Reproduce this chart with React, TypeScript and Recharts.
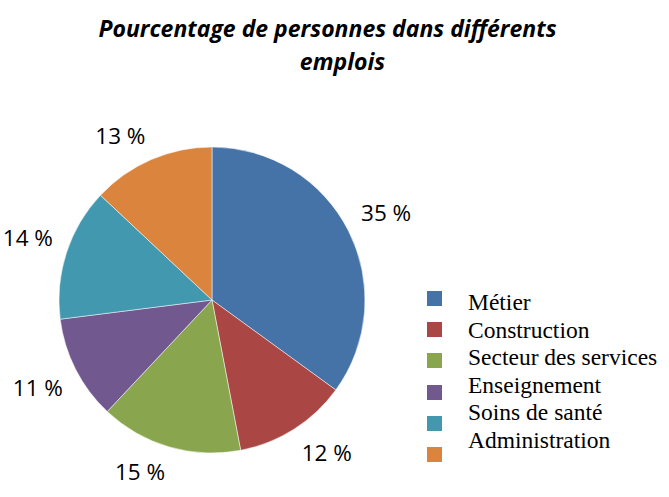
import { PieChart, Pie, Cell, Legend } from 'recharts';

const categories = ['Métier', 'Construction', 'Secteur des services', 'Enseignement', 'Soins de santé', 'Administration'];
const percentages = [35, 12, 15, 11, 14, 13];
const colors = ['#4572A7', '#AA4643', '#89A54E', '#71588F', '#4198AF', '#DB843D'];

const data = categories.map((name, i) => ({ name, value: percentages[i] }));

const RADIAN = Math.PI / 180;
const LABEL_SIZE = 22.5;

// outside-end labels: nearest corner of the text box sits just outside the slice
const renderLabel = (props: any) => {
  const { cx, cy, midAngle, outerRadius, value } = props;
  const dx = Math.cos(-midAngle * RADIAN);
  const dy = Math.sin(-midAngle * RADIAN);
  const r = outerRadius + 14;
  const w = LABEL_SIZE * 2.25;
  const h = LABEL_SIZE;
  const x = cx + r * dx + Math.sign(dx) * w / 2;
  const y = cy + r * dy + Math.sign(dy) * h / 2;
  return (
    <text
      x={x}
      y={y}
      textAnchor="middle"
      dominantBaseline="central"
      fontFamily="'Open Sans', sans-serif"
      fontSize={LABEL_SIZE}
      fill="#000"
    >
      {`${value} %`}
    </text>
  );
};

const renderLegend = () => (
  <div style={{ position: 'relative', width: 249, height: 180 }}>
    {categories.map((name, i) => (
      <div key={name}>
        <div
          style={{
            position: 'absolute',
            left: 7,
            top: 6 + i * 31.2,
            width: 15,
            height: 15,
            background: colors[i],
          }}
        />
        <div
          style={{
            position: 'absolute',
            left: 48,
            top: 4 + i * 27.6,
            fontFamily: "'Liberation Serif', 'Times New Roman', serif",
            fontSize: 23.5,
            lineHeight: '26px',
            color: '#000',
            whiteSpace: 'nowrap',
          }}
        >
          {name}
        </div>
      </div>
    ))}
  </div>
);

export default function App() {
  return (
    <div style={{ position: 'absolute', left: 0, top: 0, width: 669, height: 497, background: '#fff' }}>
      <div
        style={{
          position: 'absolute',
          left: 0,
          top: 0,
          width: 669,
          textAlign: 'center',
          fontFamily: "'Open Sans', sans-serif",
          fontWeight: 700,
          fontStyle: 'italic',
          fontSize: 23,
          lineHeight: '33px',
          paddingTop: 12,
          zIndex: 2,
        }}
      >
        <div style={{ marginLeft: -14 }}>Pourcentage de personnes dans différents</div>
        <div style={{ marginLeft: 16 }}>emplois</div>
      </div>
      <PieChart width={669} height={497} margin={{ top: 0, right: 0, bottom: 0, left: 0 }}>
        <Pie
          data={data}
          dataKey="value"
          nameKey="name"
          cx={212}
          cy={300}
          outerRadius={153}
          startAngle={90}
          endAngle={-270}
          stroke="#ffffff"
          strokeWidth={0.5}
          label={renderLabel}
          labelLine={false}
          isAnimationActive={false}
        >
          {data.map((d, i) => (
            <Cell key={d.name} fill={colors[i]} />
          ))}
        </Pie>
        <Legend
          content={renderLegend}
          wrapperStyle={{ position: 'absolute', left: 420, top: 285, width: 249, height: 180 }}
        />
      </PieChart>
    </div>
  );
}
